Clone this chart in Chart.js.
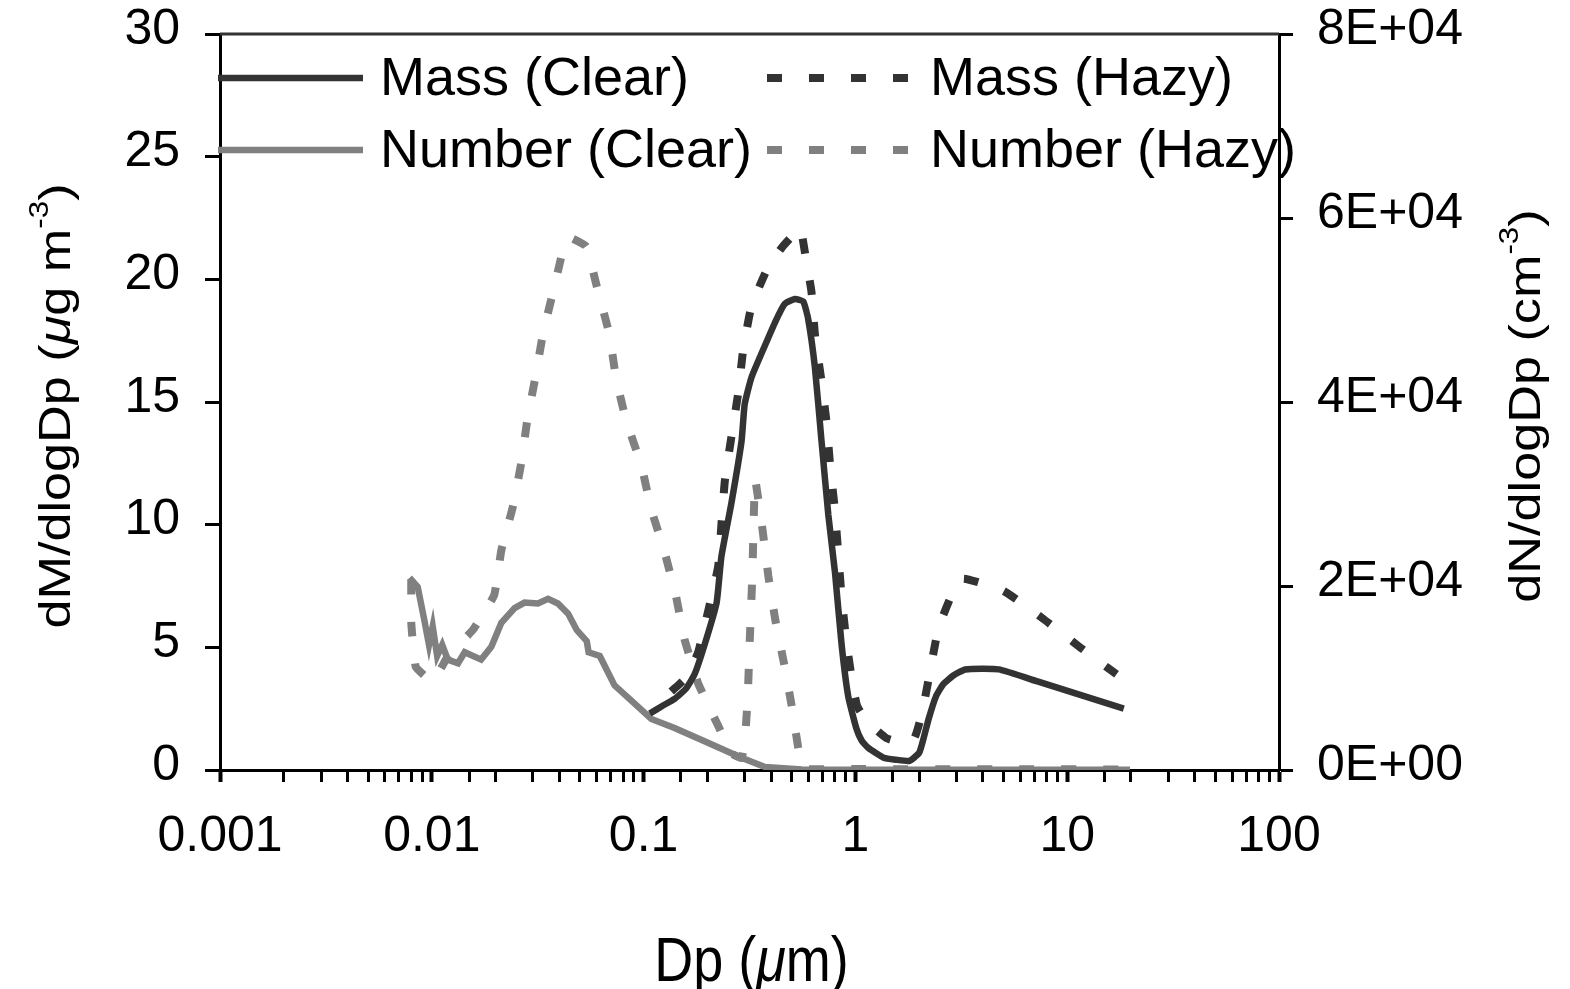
<!DOCTYPE html>
<html>
<head>
<meta charset="utf-8">
<title>Size distribution: mass and number</title>
<script src="https://cdn.jsdelivr.net/npm/chart.js@4.4.1/dist/chart.umd.min.js"></script>
<style>
  html, body { margin: 0; padding: 0; background: #fff; }
  canvas { display: block; }
</style>
</head>
<body>
<canvas id="chart" width="1570" height="989"></canvas>
<script>
'use strict';

// --- DATA ---
const massClearDp = [0.107, 0.122, 0.140, 0.158, 0.174, 0.194, 0.221, 0.233, 0.260, 0.290, 0.300, 0.323, 0.374, 0.420, 0.464, 0.518, 0.567, 0.598, 0.644, 0.692, 0.745, 0.800, 0.861, 0.925, 1.01, 1.07, 1.15, 1.36, 1.55, 1.80, 2.00, 2.10, 2.22, 2.40, 2.60, 2.90, 3.30, 4.75, 7.30, 18.5];
const massClear = [2.3, 2.6, 2.9, 3.3, 3.9, 5.1, 6.8, 8.7, 10.9, 13.4, 14.9, 16.0, 17.3, 18.3, 19.0, 19.2, 19.1, 18.4, 16.4, 13.4, 10.4, 8.1, 5.1, 3.0, 1.7, 1.2, 0.9, 0.5, 0.42, 0.37, 0.7, 1.3, 2.1, 3.0, 3.5, 3.85, 4.1, 4.1, 3.6, 2.5];

const massHazyDp = [0.135, 0.160, 0.181, 0.202, 0.225, 0.233, 0.242, 0.260, 0.280, 0.295, 0.323, 0.387, 0.450, 0.520, 0.550, 0.580, 0.620, 0.645, 0.690, 0.730, 0.760, 0.800, 0.830, 0.860, 0.905, 0.970, 1.02, 1.13, 1.40, 1.71, 1.90, 2.06, 2.25, 2.47, 2.94, 3.25, 5.00, 7.60, 11.5, 17.1];
const massHazy = [3.2, 3.8, 4.8, 6.5, 8.3, 10.0, 11.8, 13.6, 15.4, 17.1, 18.9, 20.5, 21.3, 21.9, 22.1, 21.0, 19.5, 17.7, 15.9, 14.2, 12.4, 10.6, 8.8, 7.1, 5.3, 3.5, 2.6, 2.0, 1.3, 1.1, 1.3, 2.3, 4.0, 5.8, 7.4, 7.8, 7.3, 6.2, 5.0, 3.9];

const numClearDp = [0.00785, 0.00858, 0.0092, 0.0097, 0.0101, 0.0106, 0.0112, 0.0119, 0.0133, 0.0143, 0.0171, 0.0191, 0.0213, 0.0246, 0.0274, 0.0317, 0.0354, 0.0394, 0.0440, 0.0484, 0.0539, 0.0550, 0.0621, 0.0729, 0.0870, 0.1088, 0.140, 0.194, 0.290, 0.374, 0.560, 1.00, 5.00, 19.8];
const numClear = [20900, 19900, 16400, 13600, 15600, 12400, 13600, 12000, 11600, 12800, 12000, 13400, 16000, 17600, 18200, 18100, 18600, 18100, 17000, 15200, 14000, 12800, 12400, 9200, 7600, 5550, 4570, 3130, 1330, 330, 60, 40, 30, 20];

const numHazyDp = [0.0080, 0.0080, 0.0084, 0.0101, 0.0120, 0.0156, 0.0197, 0.0213, 0.0242, 0.0265, 0.0283, 0.0309, 0.0336, 0.0377, 0.0424, 0.0448, 0.0536, 0.0608, 0.0689, 0.0741, 0.0827, 0.0976, 0.1088, 0.1256, 0.1425, 0.156, 0.181, 0.225, 0.260, 0.290, 0.300, 0.310, 0.317, 0.326, 0.336, 0.364, 0.388, 0.418, 0.460, 0.500, 0.540, 0.570, 1.00, 5.00, 19.8];
const numHazy = [20700, 16000, 11200, 9600, 12500, 15200, 19000, 23900, 28700, 33500, 38200, 42800, 47600, 52300, 57300, 57900, 56900, 52100, 47400, 42600, 38000, 33100, 28300, 23700, 18800, 14200, 9400, 4800, 1800, 1300, 2900, 7800, 14000, 21000, 31600, 26200, 21100, 16400, 11600, 7000, 2100, 150, 100, 80, 60];

const seriesNames = ['Mass (Clear)', 'Mass (Hazy)', 'Number (Clear)', 'Number (Hazy)'];
const xTickLabels = ['0.001', '0.01', '0.1', '1', '10', '100'];
const rightTickLabels = ['0E+00', '2E+04', '4E+04', '6E+04', '8E+04'];

// --- STYLE ---
const DARK = '#333333';
const GREY = '#808080';
const FONT = "'Liberation Sans', Arial, Helvetica, sans-serif";
const HAZY_DASH = [15, 27];

Chart.defaults.font.family = FONT;
Chart.defaults.color = '#000';

function toPoints(xs, ys) {
    return xs.map((x, i) => ({ x: x, y: ys[i] }));
}

// draws a run of text pieces (plain / italic / superscript) centred on 0, baseline at 0
function drawRich(ctx, parts, size) {
    const fontFor = p => `${p.italic ? 'italic ' : ''}${p.sup ? size * 0.6 : size}px ${FONT}`;
    let total = 0;
    parts.forEach(p => { ctx.font = fontFor(p); p.w = ctx.measureText(p.t).width; total += p.w; });
    let x = -total / 2;
    ctx.textAlign = 'left';
    ctx.textBaseline = 'alphabetic';
    parts.forEach(p => {
        ctx.font = fontFor(p);
        ctx.fillText(p.t, x, p.sup ? -size * 0.5 : 0);
        x += p.w;
    });
}

// --- PLUGIN: frame top, legend and axis titles ---
const decorations = {
    id: 'decorations',
    afterDraw(chart) {
        const { ctx, chartArea } = chart;
        ctx.save();

        // top edge of the plot frame
        ctx.strokeStyle = DARK;
        ctx.lineWidth = 3;
        ctx.beginPath();
        ctx.moveTo(chartArea.left, chartArea.top);
        ctx.lineTo(chartArea.right, chartArea.top);
        ctx.stroke();

        // legend, two columns by two rows
        const rows = [78, 150];
        const cols = [{ x0: 218, x1: 363, tx: 380 }, { x0: 767, x1: 915, tx: 930 }];
        chart.data.datasets.forEach((ds, i) => {
            const col = cols[i % 2];
            const y = rows[Math.floor(i / 2)];
            ctx.strokeStyle = ds.borderColor;
            ctx.lineWidth = ds.borderWidth;
            ctx.setLineDash(ds.borderDash || []);
            ctx.lineCap = 'butt';
            ctx.beginPath();
            ctx.moveTo(col.x0, y);
            ctx.lineTo(col.x1, y);
            ctx.stroke();
            ctx.setLineDash([]);
            ctx.fillStyle = '#000';
            ctx.font = `54px ${FONT}`;
            ctx.textAlign = 'left';
            ctx.textBaseline = 'middle';
            ctx.fillText(ds.label, col.tx, y + 2);
        });

        ctx.fillStyle = '#000';

        // x title
        ctx.save();
        ctx.translate((chartArea.left + chartArea.right) / 2 + 2, 981);
        ctx.scale(1, 1.15);
        drawRich(ctx, [{ t: 'Dp (' }, { t: 'μ', italic: true }, { t: 'm)' }], 54);
        ctx.restore();

        // left title
        const midY = (chartArea.top + chartArea.bottom) / 2 + 4;
        ctx.save();
        ctx.translate(70, midY);
        ctx.rotate(-Math.PI / 2);
        ctx.scale(1.16, 1);
        drawRich(ctx, [{ t: 'dM/dlogDp (' }, { t: 'μ', italic: true }, { t: 'g m' }, { t: '-3', sup: true }, { t: ')' }], 45);
        ctx.restore();

        // right title
        ctx.save();
        ctx.translate(1540, midY);
        ctx.rotate(-Math.PI / 2);
        ctx.scale(1.16, 1);
        drawRich(ctx, [{ t: 'dN/dlogDp (cm' }, { t: '-3', sup: true }, { t: ')' }], 45);
        ctx.restore();

        ctx.restore();
    }
};

// --- CHART ---
const isDecade = v => Math.abs(Math.log10(v) - Math.round(Math.log10(v))) < 1e-6;
const noVerticalPadding = s => { s.paddingTop = 0; s.paddingBottom = 0; };

new Chart(document.getElementById('chart'), {
    type: 'line',
    data: {
        datasets: [
            { label: seriesNames[0], data: toPoints(massClearDp, massClear), yAxisID: 'y',
              borderColor: DARK, borderWidth: 6.5, tension: 0.15 },
            { label: seriesNames[1], data: toPoints(massHazyDp, massHazy), yAxisID: 'y',
              borderColor: DARK, borderWidth: 8, borderDash: HAZY_DASH, tension: 0.15 },
            { label: seriesNames[2], data: toPoints(numClearDp, numClear), yAxisID: 'y2',
              borderColor: GREY, borderWidth: 6.5, tension: 0 },
            { label: seriesNames[3], data: toPoints(numHazyDp, numHazy), yAxisID: 'y2',
              borderColor: GREY, borderWidth: 8, borderDash: HAZY_DASH, tension: 0.1 }
        ]
    },
    options: {
        responsive: false,
        animation: false,
        devicePixelRatio: 1,
        layout: { padding: { top: 34, left: 0, right: 0, bottom: 0 } },
        elements: { point: { radius: 0 }, line: { borderCapStyle: 'butt', fill: false } },
        plugins: { legend: { display: false }, tooltip: { enabled: false } },
        scales: {
            x: {
                type: 'logarithmic',
                position: 'bottom',
                min: 0.001,
                max: 100,
                afterFit: s => { s.height = 989 - 770; s.paddingLeft = 0; s.paddingRight = 0; },
                border: { display: true, color: '#000', width: 3 },
                grid: {
                    drawOnChartArea: false,
                    drawTicks: true,
                    tickLength: 12,
                    tickColor: '#000',
                    tickWidth: c => (c.tick && isDecade(c.tick.value) ? 4 : 3)
                },
                ticks: {
                    autoSkip: false,
                    maxRotation: 0,
                    padding: 25,
                    font: { size: 50 },
                    callback: v => (isDecade(v) ? xTickLabels[Math.round(Math.log10(v)) + 3] : '')
                }
            },
            y: {
                position: 'left',
                min: 0,
                max: 30,
                afterFit: s => { s.width = 220; noVerticalPadding(s); },
                border: { display: true, color: '#000', width: 3 },
                grid: { drawOnChartArea: false, tickLength: 15, tickColor: '#000', tickWidth: 3 },
                ticks: { stepSize: 5, padding: 25, labelOffset: -4, font: { size: 50 } }
            },
            y2: {
                position: 'right',
                min: 0,
                max: 80000,
                afterFit: s => { s.width = 1570 - 1279; noVerticalPadding(s); },
                border: { display: true, color: '#000', width: 3 },
                grid: { drawOnChartArea: false, tickLength: 14, tickColor: '#000', tickWidth: 3 },
                ticks: {
                    stepSize: 20000,
                    padding: 24,
                    labelOffset: -4,
                    font: { size: 50 },
                    callback: v => rightTickLabels[Math.round(v / 20000)]
                }
            }
        }
    },
    plugins: [decorations]
});
</script>
</body>
</html>
